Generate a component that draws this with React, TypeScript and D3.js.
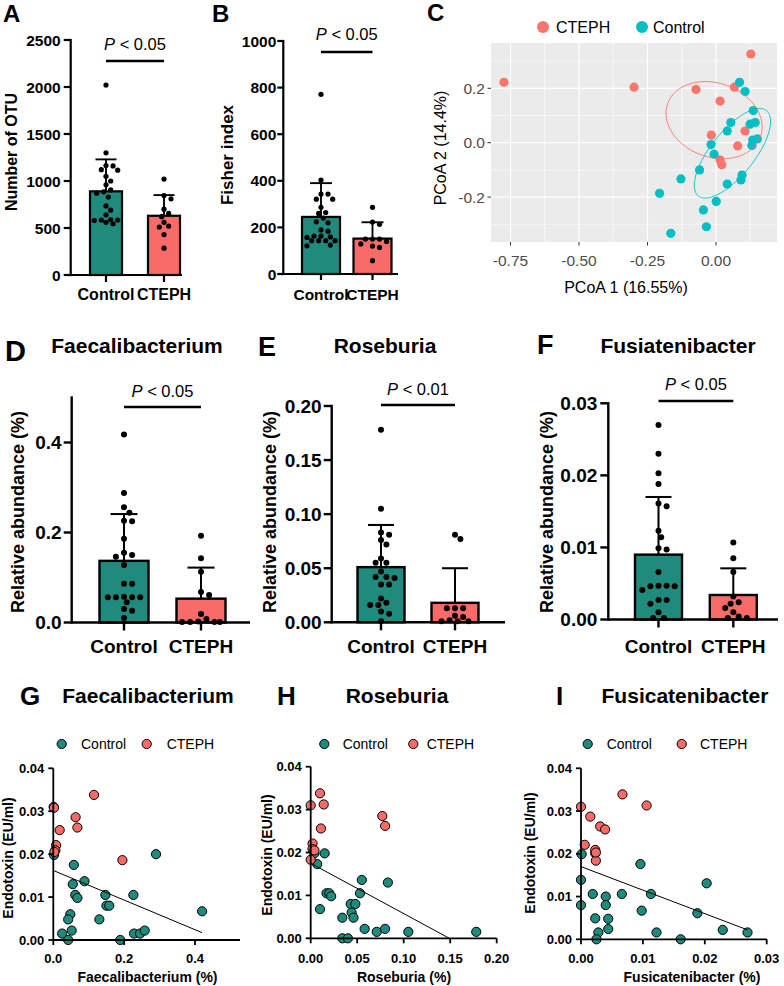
import React from 'react';
import * as d3 from 'd3';

const FONT = "'Liberation Sans', Arial, Helvetica, sans-serif";
const TEAL = '#1E8B7D';
const SALMON = '#F86B68';
const GG_RED = '#F8766D';
const GG_TEAL = '#00BFC4';

const groups = ['Control', 'CTEPH'];

// ---------- A: Number of OTU ----------
const otuControl = [2020, 1300, 1160, 1165, 1120, 1115, 1050, 960, 905, 885, 830, 735, 690, 640, 590, 585, 585, 580, 560, 545, 870, 1000];
const otuCteph = [1020, 845, 810, 700, 655, 620, 560, 520, 510, 285, 430];
const otuMeans = [890, 630];
const otuSdTops = [1230, 850];
const otuTicks = [0, 500, 1000, 1500, 2000, 2500];

// ---------- B: Fisher index ----------
const fisherControl = [771, 403, 343, 343, 321, 321, 286, 264, 260, 240, 220, 224, 189, 184, 163, 163, 157, 159, 143, 143, 143, 143, 124, 121];
const fisherCteph = [286, 213, 223, 150, 150, 150, 129, 114, 57, 140, 120];
const fisherMeans = [245, 152];
const fisherSdTops = [390, 222];
const fisherTicks = [0, 200, 400, 600, 800, 1000];

// ---------- C: PCoA ----------
const pcoaCtephX = [-0.774, -0.299, -0.073, 0.127, 0.067, 0.015, 0.106, -0.017, 0.079, 0.015, 0.021];
const pcoaCtephY = [0.222, 0.204, 0.196, 0.326, 0.204, 0.153, 0.043, 0.028, -0.012, -0.064, -0.081];
const pcoaControlX = [0.086, 0.106, 0.136, 0.054, 0.041, 0.124, 0.143, 0.134, 0.151, 0.131, -0.018, -0.007, -0.060, 0.095, 0.091, 0.041, -0.128, -0.206, 0.001, -0.046, -0.035, -0.165];
const pcoaControlY = [0.222, 0.188, 0.118, 0.074, 0.043, 0.068, 0.074, 0.010, 0.014, -0.010, -0.007, -0.042, -0.100, -0.119, -0.137, -0.152, -0.133, -0.186, -0.216, -0.247, -0.309, -0.333];
const pcoaXTicks = [-0.75, -0.5, -0.25, 0];
const pcoaXMinor = [-0.625, -0.375, -0.125, 0.125];
const pcoaYTicks = [-0.2, 0, 0.2];
const pcoaYMinor = [-0.3, -0.1, 0.1, 0.3];
const ellipseCteph = { cx: -0.007, cy: 0.083, a: 0.18, b: 0.136, angle: -20 };
const ellipseControl = { cx: 0.06, cy: -0.039, a: 0.2, b: 0.08, angle: 51.6 };

// ---------- D/E/F ----------
const faecControl = [0.418, 0.288, 0.256, 0.244, 0.225, 0.226, 0.186, 0.150, 0.155, 0.146, 0.128, 0.086, 0.086, 0.057, 0.056, 0.056, 0.056, 0.056, 0.026, 0.045, 0.030, 0.010];
const faecCteph = [0.193, 0.143, 0.113, 0.068, 0.061, 0.019, 0.008, 0.001, 0.001, 0.001, 0.001, 0.002];
const faecMeans = [0.137, 0.053];
const faecSdTops = [0.241, 0.122];
const faecTicks = [0, 0.2, 0.4];

const roseControl = [0.178, 0.105, 0.081, 0.083, 0.072, 0.076, 0.059, 0.055, 0.055, 0.041, 0.042, 0.042, 0.047, 0.035, 0.035, 0.022, 0.016, 0.008, 0.016, 0.010, 0.018, 0.001];
const roseCteph = [0.077, 0.081, 0.013, 0.013, 0.013, 0.006, 0.005, 0.001, 0.001, 0.001, 0.002];
const roseMeans = [0.051, 0.018];
const roseSdTops = [0.090, 0.050];
const roseTicks = [0, 0.05, 0.1, 0.15, 0.2];

const fusiControl = [0.027, 0.023, 0.0203, 0.0188, 0.0157, 0.0161, 0.0123, 0.0114, 0.0097, 0.0099, 0.0066, 0.0046, 0.0046, 0.0047, 0.0047, 0.0041, 0.0027, 0.0027, 0.0022, 0.0002, 0.0002, 0.001];
const fusiCteph = [0.0107, 0.0085, 0.0066, 0.0024, 0.0022, 0.0032, 0.0016, 0.0002, 0.0002, 0.0004, 0.001];
const fusiMeans = [0.009, 0.0034];
const fusiSdTops = [0.017, 0.0071];
const fusiTicks = [0, 0.01, 0.02, 0.03];

// ---------- G/H/I scatter ----------
const gControlX = [0.002, 0.290, 0.058, 0.088, 0.055, 0.062, 0.068, 0.147, 0.226, 0.150, 0.158, 0.130, 0.048, 0.042, 0.052, 0.025, 0.042, 0.189, 0.228, 0.245, 0.258, 0.420];
const gControlY = [0.0198, 0.0200, 0.0175, 0.0137, 0.0130, 0.0105, 0.0098, 0.0105, 0.0105, 0.0080, 0.0080, 0.0048, 0.0060, 0.0048, 0.0022, 0.0015, 0.0000, 0.0000, 0.0015, 0.0015, 0.0022, 0.0067];
const gCtephX = [0.001, 0.002, 0.115, 0.063, 0.068, 0.018, 0.008, 0.006, 0.003, 0.195];
const gCtephY = [0.0310, 0.0308, 0.0338, 0.0286, 0.0262, 0.0256, 0.0221, 0.0209, 0.0205, 0.0186];
const gFit = { b0: 0.0162, b1: -0.0345, xEnd: 0.42 };

const hControlX = [0.004, 0.015, 0.007, 0.055, 0.083, 0.017, 0.020, 0.022, 0.053, 0.010, 0.043, 0.048, 0.044, 0.046, 0.034, 0.058, 0.071, 0.080, 0.105, 0.178, 0.034, 0.040];
const hControlY = [0.0198, 0.0198, 0.0173, 0.0136, 0.0130, 0.0105, 0.0105, 0.0098, 0.0105, 0.0068, 0.0080, 0.0080, 0.0060, 0.0048, 0.0048, 0.0022, 0.0015, 0.0022, 0.0015, 0.0015, 0.0000, 0.0000];
const hCtephX = [0.000, 0.010, 0.014, 0.011, 0.077, 0.080, 0.002, 0.002, 0.004, 0.000];
const hCtephY = [0.0310, 0.0338, 0.0312, 0.0256, 0.0285, 0.0262, 0.0221, 0.0208, 0.0205, 0.0183];
const hFit = { b0: 0.0175, b1: -0.1174, xEnd: 0.149 };

const iControlX = [0.0001, 0.0023, 0.0096, 0.0203, 0.0, 0.0019, 0.0040, 0.0066, 0.0113, 0.0, 0.0040, 0.0098, 0.0188, 0.0023, 0.0044, 0.0044, 0.0028, 0.0122, 0.0229, 0.0269, 0.0025, 0.0161];
const iControlY = [0.0199, 0.0201, 0.0176, 0.0131, 0.0139, 0.0106, 0.0100, 0.0106, 0.0106, 0.0080, 0.0080, 0.0067, 0.0061, 0.0049, 0.0048, 0.0024, 0.0016, 0.0016, 0.0022, 0.0016, 0.0, 0.0];
const iCtephX = [0.0, 0.0067, 0.0106, 0.0015, 0.0031, 0.0039, 0.0006, 0.0023, 0.0024, 0.0024];
const iCtephY = [0.0310, 0.0339, 0.0313, 0.0287, 0.0264, 0.0257, 0.0221, 0.0209, 0.0184, 0.0203];
const iFit = { b0: 0.0170, b1: -0.55, xEnd: 0.0269 };

// ---------- helpers ----------
function swarm(vals: number[], y: (v: number) => number, cx: number, r: number, maxOff: number) {
  const order = vals.map((_, i) => i).sort((a, b) => vals[b] - vals[a]);
  const placed: { x: number; y: number }[] = [];
  const res: { x: number; y: number }[] = new Array(vals.length);
  const minD = 2 * r + 0.8;
  const step = r * 0.9;
  const cands: number[] = [0];
  for (let k = 1; k * step <= maxOff; k++) cands.push(k * step, -k * step);
  for (const i of order) {
    const py = y(vals[i]);
    let bestX = cx;
    let bestD = -1;
    for (const c of cands) {
      const px = cx + c;
      let md = Infinity;
      for (const q of placed) md = Math.min(md, Math.hypot(q.x - px, q.y - py));
      if (md >= minD) { bestX = px; break; }
      if (md > bestD) { bestD = md; bestX = px; }
    }
    const pt = { x: bestX, y: py };
    placed.push(pt);
    res[i] = pt;
  }
  return res;
}

type BarProps = {
  letter: string; letterX: number; letterY: number; letterSize: number;
  title?: string; titleX?: number; titleY?: number;
  axisX: number; axisEnd: number; y0: number; y1: number; yMax: number;
  ticks: number[]; fmt: (v: number) => string; tickFont: number; tickLen: number; labelGap: number;
  centers: [number, number]; barW: number;
  values: number[][]; means: number[]; sdTops: number[];
  dotR: number; capW: number; lw: number;
  pVal: string; pY: number; pSize: number; sigY: number;
  ylabel: string; ylabelX: number; ylabelY: number; ylabelSize: number;
  xlabelY: number; xlabelSize: number;
};

function BarPanel(p: BarProps) {
  const y = d3.scaleLinear().domain([0, p.yMax]).range([p.y0, p.y1]);
  const x = d3.scalePoint<string>().domain(groups).range(p.centers);
  const fills = [TEAL, SALMON];
  const dots = groups.map((g, gi) => swarm(p.values[gi], y, x(g)!, p.dotR, p.barW / 2 - p.dotR - 1));
  const cx0 = x(groups[0])!;
  const cx1 = x(groups[1])!;
  return (
    <g>
      <text x={p.letterX} y={p.letterY} fontSize={p.letterSize} fontWeight="bold">{p.letter}</text>
      {p.title && (
        <text x={p.titleX} y={p.titleY} fontSize={21} fontWeight="bold" textAnchor="middle">{p.title}</text>
      )}
      {groups.map((g, gi) => (
        <rect key={g} x={x(g)! - p.barW / 2} y={y(p.means[gi])} width={p.barW} height={y(0) - y(p.means[gi])}
          fill={fills[gi]} stroke="black" strokeWidth={p.lw} />
      ))}
      {groups.map((g, gi) => (
        <g key={g + 'e'} stroke="black" strokeWidth={p.lw * 0.85}>
          <line x1={x(g)} x2={x(g)} y1={y(p.means[gi])} y2={y(p.sdTops[gi])} />
          <line x1={x(g)! - p.capW / 2} x2={x(g)! + p.capW / 2} y1={y(p.sdTops[gi])} y2={y(p.sdTops[gi])} />
        </g>
      ))}
      {dots.map((arr, gi) => arr.map((d, i) => (
        <circle key={gi + '-' + i} cx={d.x} cy={d.y} r={p.dotR} fill="black" />
      )))}
      <line x1={p.axisX} x2={p.axisX} y1={y(0)} y2={y(p.yMax)} stroke="black" strokeWidth={p.lw} strokeLinecap="square" />
      <line x1={p.axisX} x2={p.axisEnd} y1={y(0)} y2={y(0)} stroke="black" strokeWidth={p.lw} />
      {p.ticks.map((t) => (
        <g key={t}>
          <line x1={p.axisX - p.tickLen} x2={p.axisX} y1={y(t)} y2={y(t)} stroke="black" strokeWidth={p.lw} />
          <text x={p.axisX - p.labelGap} y={y(t)} dy="0.36em" textAnchor="end" fontSize={p.tickFont} fontWeight="bold">{p.fmt(t)}</text>
        </g>
      ))}
      {groups.map((g) => (
        <g key={g + 'x'}>
          <line x1={x(g)} x2={x(g)} y1={y(0)} y2={y(0) + p.tickLen} stroke="black" strokeWidth={p.lw} />
          <text x={x(g)} y={p.xlabelY} textAnchor="middle" fontSize={p.xlabelSize} fontWeight="bold">{g}</text>
        </g>
      ))}
      <line x1={cx0} x2={cx1} y1={p.sigY} y2={p.sigY} stroke="black" strokeWidth={2.5} />
      <text x={(cx0 + cx1) / 2} y={p.pY} textAnchor="middle" fontSize={p.pSize}>
        <tspan fontStyle="italic">P</tspan> {'< ' + p.pVal}
      </text>
      <text transform={`translate(${p.ylabelX},${p.ylabelY}) rotate(-90)`} textAnchor="middle" fontSize={p.ylabelSize} fontWeight="bold">{p.ylabel}</text>
    </g>
  );
}

function ellipsePath(e: { cx: number; cy: number; a: number; b: number; angle: number }, xs: (v: number) => number, ys: (v: number) => number) {
  const th = (e.angle * Math.PI) / 180;
  const pts: [number, number][] = d3.range(0, 120).map((k) => {
    const t = (k / 120) * 2 * Math.PI;
    const dx = e.a * Math.cos(t) * Math.cos(th) - e.b * Math.sin(t) * Math.sin(th);
    const dy = e.a * Math.cos(t) * Math.sin(th) + e.b * Math.sin(t) * Math.cos(th);
    return [xs(e.cx + dx), ys(e.cy + dy)];
  });
  return d3.line().curve(d3.curveLinearClosed)(pts) || '';
}

function PcoaPanel() {
  const L = 491, R = 777, T = 43, B = 242;
  const xs = d3.scaleLinear().domain([-0.8212, 0.2226]).range([L, R]);
  const ys = d3.scaleLinear().domain([-0.365, 0.3665]).range([B, T]);
  const grey = '#4D4D4D';
  return (
    <g>
      <text x={427} y={21} fontSize={24} fontWeight="bold">C</text>
      <rect x={L} y={T} width={R - L} height={B - T} fill="#EBEBEB" />
      {pcoaXMinor.map((v) => <line key={'xm' + v} x1={xs(v)} x2={xs(v)} y1={T} y2={B} stroke="white" strokeWidth={0.6} />)}
      {pcoaYMinor.map((v) => <line key={'ym' + v} x1={L} x2={R} y1={ys(v)} y2={ys(v)} stroke="white" strokeWidth={0.6} />)}
      {pcoaXTicks.map((v) => <line key={'xM' + v} x1={xs(v)} x2={xs(v)} y1={T} y2={B} stroke="white" strokeWidth={1.2} />)}
      {pcoaYTicks.map((v) => <line key={'yM' + v} x1={L} x2={R} y1={ys(v)} y2={ys(v)} stroke="white" strokeWidth={1.2} />)}
      {pcoaCtephX.map((v, i) => <circle key={'r' + i} cx={xs(v)} cy={ys(pcoaCtephY[i])} r={4.6} fill={GG_RED} />)}
      {pcoaControlX.map((v, i) => <circle key={'t' + i} cx={xs(v)} cy={ys(pcoaControlY[i])} r={4.6} fill={GG_TEAL} />)}
      <path d={ellipsePath(ellipseCteph, xs, ys)} fill="none" stroke={GG_RED} strokeWidth={0.9} />
      <path d={ellipsePath(ellipseControl, xs, ys)} fill="none" stroke={GG_TEAL} strokeWidth={0.9} />
      {pcoaXTicks.map((v) => (
        <g key={'xt' + v}>
          <line x1={xs(v)} x2={xs(v)} y1={B} y2={B + 3.5} stroke="#333" strokeWidth={1} />
          <text x={xs(v)} y={266} textAnchor="middle" fontSize={15.5} fill={grey}>{d3.format('.2f')(v).replace('−', '-')}</text>
        </g>
      ))}
      {pcoaYTicks.map((v) => (
        <g key={'yt' + v}>
          <line x1={L - 3.5} x2={L} y1={ys(v)} y2={ys(v)} stroke="#333" strokeWidth={1} />
          <text x={L - 6} y={ys(v)} dy="0.36em" textAnchor="end" fontSize={15.5} fill={grey}>{d3.format('.1f')(v).replace('−', '-')}</text>
        </g>
      ))}
      <text x={626} y={293} textAnchor="middle" fontSize={16}>PCoA 1 (16.55%)</text>
      <text transform="translate(446,148) rotate(-90)" textAnchor="middle" fontSize={16}>PCoA 2 (14.4%)</text>
      <circle cx={543} cy={27} r={6} fill={GG_RED} />
      <text x={556} y={33} fontSize={16}>CTEPH</text>
      <circle cx={642} cy={27} r={6} fill={GG_TEAL} />
      <text x={653} y={33} fontSize={16}>Control</text>
    </g>
  );
}

type ScatProps = {
  letter: string; letterX: number; title: string; titleX: number;
  axisX: number; xEnd: number; xMax: number; xTicks: number[]; xFmt: (v: number) => string;
  y0: number; y1: number;
  cX: number[]; cY: number[]; rX: number[]; rY: number[];
  fit: { b0: number; b1: number; xEnd: number };
  legC: number; legCt: number; legR: number; legRt: number;
  xlabel: string; xlabelX: number; ylabelX: number; ylabelY: number;
};

const endoTicks = [0, 0.01, 0.02, 0.03, 0.04];

function ScatterPanel(p: ScatProps) {
  const xs = d3.scaleLinear().domain([0, p.xMax]).range([p.axisX, p.xEnd]);
  const ys = d3.scaleLinear().domain([0, 0.04]).range([p.y0, p.y1]);
  const fitLine = d3.line<number>().x((v) => xs(v)).y((v) => ys(p.fit.b0 + p.fit.b1 * v))([0, p.fit.xEnd]) || '';
  const legY = 744;
  return (
    <g>
      <text x={p.letterX} y={705} fontSize={26} fontWeight="bold">{p.letter}</text>
      <text x={p.titleX} y={703} fontSize={21} fontWeight="bold" textAnchor="middle">{p.title}</text>
      <circle cx={p.legC} cy={legY} r={4.6} fill={TEAL} stroke="black" strokeWidth={1} />
      <text x={p.legCt} y={legY} dy="0.36em" fontSize={14}>Control</text>
      <circle cx={p.legR} cy={legY} r={4.6} fill={SALMON} stroke="black" strokeWidth={1} />
      <text x={p.legRt} y={legY} dy="0.36em" fontSize={14}>CTEPH</text>
      {p.cX.map((v, i) => <circle key={'c' + i} cx={xs(v)} cy={ys(p.cY[i])} r={4.6} fill={TEAL} stroke="black" strokeWidth={1} />)}
      {p.rX.map((v, i) => <circle key={'r' + i} cx={xs(v)} cy={ys(p.rY[i])} r={4.6} fill={SALMON} stroke="black" strokeWidth={1} />)}
      <path d={fitLine} stroke="black" strokeWidth={1} fill="none" />
      <line x1={p.axisX} x2={p.axisX} y1={ys(0)} y2={ys(0.04)} stroke="black" strokeWidth={1.8} />
      <line x1={p.axisX} x2={p.xEnd} y1={ys(0)} y2={ys(0)} stroke="black" strokeWidth={1.8} />
      {endoTicks.map((t) => (
        <g key={'y' + t}>
          <line x1={p.axisX - 5} x2={p.axisX} y1={ys(t)} y2={ys(t)} stroke="black" strokeWidth={1.8} />
          <text x={p.axisX - 9} y={ys(t)} dy="0.36em" textAnchor="end" fontSize={13} fontWeight="bold">{d3.format('.2f')(t)}</text>
        </g>
      ))}
      {p.xTicks.map((t) => (
        <g key={'x' + t}>
          <line x1={xs(t)} x2={xs(t)} y1={ys(0)} y2={ys(0) + 5} stroke="black" strokeWidth={1.8} />
          <text x={xs(t)} y={963} textAnchor="middle" fontSize={13} fontWeight="bold">{p.xFmt(t)}</text>
        </g>
      ))}
      <text x={p.xlabelX} y={982} textAnchor="middle" fontSize={14} fontWeight="bold">{p.xlabel}</text>
      <text transform={`translate(${p.ylabelX},${p.ylabelY}) rotate(-90)`} textAnchor="middle" fontSize={14} fontWeight="bold">Endotoxin (EU/ml)</text>
    </g>
  );
}

export default function App() {
  const f0 = d3.format('.0f');
  const f1 = d3.format('.1f');
  const f2 = d3.format('.2f');
  return (
    <svg width={784} height={986} style={{ position: 'absolute', left: 0, top: 0, display: 'block' }} fontFamily={FONT}>
      <rect width={784} height={986} fill="white" />
      <BarPanel letter="A" letterX={3} letterY={22} letterSize={24}
        axisX={70.7} axisEnd={182} y0={275} y1={40} yMax={2500}
        ticks={otuTicks} fmt={f0} tickFont={15.5} tickLen={7} labelGap={10}
        centers={[106, 164]} barW={32} values={[otuControl, otuCteph]} means={otuMeans} sdTops={otuSdTops}
        dotR={2.6} capW={21} lw={2.2}
        pVal="0.05" pY={50} pSize={16.5} sigY={61}
        ylabel="Number of OTU" ylabelX={17} ylabelY={152} ylabelSize={16}
        xlabelY={300} xlabelSize={16} />
      <BarPanel letter="B" letterX={212} letterY={22} letterSize={24}
        axisX={283.3} axisEnd={398} y0={274} y1={41} yMax={1000}
        ticks={fisherTicks} fmt={f0} tickFont={15.5} tickLen={6} labelGap={7}
        centers={[321, 372.5]} barW={38} values={[fisherControl, fisherCteph]} means={fisherMeans} sdTops={fisherSdTops}
        dotR={2.6} capW={22} lw={2.2}
        pVal="0.05" pY={40} pSize={16.5} sigY={52}
        ylabel="Fisher index" ylabelX={233} ylabelY={155} ylabelSize={17}
        xlabelY={300} xlabelSize={15.5} />
      <PcoaPanel />
      <BarPanel letter="D" letterX={5} letterY={361} letterSize={29}
        title="Faecalibacterium" titleX={137} titleY={353}
        axisX={71.7} axisEnd={250} y0={622.5} y1={397.5} yMax={0.5}
        ticks={faecTicks} fmt={f1} tickFont={19} tickLen={8} labelGap={10}
        centers={[124, 201]} barW={49} values={[faecControl, faecCteph]} means={faecMeans} sdTops={faecSdTops}
        dotR={3} capW={27} lw={2.4}
        pVal="0.05" pY={397} pSize={16.5} sigY={407}
        ylabel="Relative abundance (%)" ylabelX={24} ylabelY={512} ylabelSize={18}
        xlabelY={653} xlabelSize={19} />
      <BarPanel letter="E" letterX={258} letterY={356} letterSize={27}
        title="Roseburia" titleX={385} titleY={353}
        axisX={331.7} axisEnd={505} y0={622.3} y1={406} yMax={0.2}
        ticks={roseTicks} fmt={f2} tickFont={19} tickLen={8} labelGap={10}
        centers={[381, 455]} barW={47} values={[roseControl, roseCteph]} means={roseMeans} sdTops={roseSdTops}
        dotR={3} capW={26} lw={2.4}
        pVal="0.01" pY={395} pSize={16.5} sigY={405}
        ylabel="Relative abundance (%)" ylabelX={276} ylabelY={512} ylabelSize={18}
        xlabelY={653} xlabelSize={19} />
      <BarPanel letter="F" letterX={537} letterY={354} letterSize={27}
        title="Fusiatenibacter" titleX={678} titleY={353}
        axisX={608.3} axisEnd={778} y0={619.5} y1={403.3} yMax={0.03}
        ticks={fusiTicks} fmt={f2} tickFont={19} tickLen={8} labelGap={11}
        centers={[658.5, 733.3]} barW={47} values={[fusiControl, fusiCteph]} means={fusiMeans} sdTops={fusiSdTops}
        dotR={3} capW={26} lw={2.4}
        pVal="0.05" pY={390} pSize={16.5} sigY={401}
        ylabel="Relative abundance (%)" ylabelX={553} ylabelY={512} ylabelSize={18}
        xlabelY={653} xlabelSize={19} />
      <ScatterPanel letter="G" letterX={20} title="Faecalibacterium" titleX={148}
        axisX={53.3} xEnd={240} xMax={0.527} xTicks={[0, 0.2, 0.4]} xFmt={f1}
        y0={940} y1={768.3}
        cX={gControlX} cY={gControlY} rX={gCtephX} rY={gCtephY} fit={gFit}
        legC={61.7} legCt={81} legR={146.7} legRt={166.7}
        xlabel="Faecalibacterium (%)" xlabelX={147.5} ylabelX={13} ylabelY={858} />
      <ScatterPanel letter="H" letterX={277} title="Roseburia" titleX={397}
        axisX={310.7} xEnd={496.7} xMax={0.2} xTicks={[0, 0.05, 0.1, 0.15, 0.2]} xFmt={f2}
        y0={938.3} y1={766.7}
        cX={hControlX} cY={hControlY} rX={hCtephX} rY={hCtephY} fit={hFit}
        legC={324.3} legCt={342.7} legR={413.3} legRt={426.7}
        xlabel="Roseburia (%)" xlabelX={404} ylabelX={272} ylabelY={855} />
      <ScatterPanel letter="I" letterX={556} title="Fusicatenibacter" titleX={685}
        axisX={581} xEnd={766.7} xMax={0.03} xTicks={[0, 0.01, 0.02, 0.03]} xFmt={f2}
        y0={939.3} y1={768.3}
        cX={iControlX} cY={iControlY} rX={iCtephX} rY={iCtephY} fit={iFit}
        legC={587.7} legCt={606.7} legR={681.7} legRt={700}
        xlabel="Fusicatenibacter (%)" xlabelX={692} ylabelX={535} ylabelY={853} />
    </svg>
  );
}
